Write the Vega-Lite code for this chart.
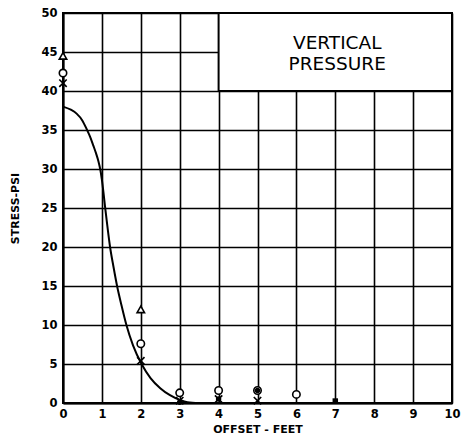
{
  "$schema": "https://vega.github.io/schema/vega-lite/v6.json",
  "width": 389,
  "height": 390,
  "autosize": "none",
  "padding": {"left": 63, "top": 13, "right": 11, "bottom": 34},
  "background": "white",
  "view": {"stroke": "black", "strokeWidth": 2},
  "config": {
    "font": "DejaVu Sans",
    "axis": {
      "grid": true,
      "gridColor": "black",
      "gridWidth": 1.6,
      "gridOpacity": 1,
      "domainColor": "black",
      "domainWidth": 2,
      "ticks": false,
      "labelColor": "#000000",
      "labelFont": "DejaVu Sans",
      "labelFontWeight": "bold",
      "labelFontSize": 11.5,
      "labelOverlap": false,
      "titleColor": "#000000",
      "titleFont": "DejaVu Sans",
      "titleFontWeight": "bold",
      "titleFontSize": 11
    }
  },
  "datasets": {
    "curve": [
      {"x": 0, "y": 38}, {"x": 0.2, "y": 37.6}, {"x": 0.35, "y": 37.1}, {"x": 0.5, "y": 36.2},
      {"x": 0.61, "y": 35.1}, {"x": 0.7, "y": 34.1}, {"x": 0.78, "y": 33}, {"x": 0.85, "y": 32},
      {"x": 0.91, "y": 31}, {"x": 0.96, "y": 29.9}, {"x": 1.0, "y": 28.6}, {"x": 1.04, "y": 27},
      {"x": 1.08, "y": 25.2}, {"x": 1.14, "y": 22.7}, {"x": 1.21, "y": 20}, {"x": 1.3, "y": 17.4},
      {"x": 1.39, "y": 15}, {"x": 1.5, "y": 12.6}, {"x": 1.63, "y": 10}, {"x": 1.8, "y": 7.4},
      {"x": 2.02, "y": 5}, {"x": 2.25, "y": 3.2}, {"x": 2.5, "y": 1.9}, {"x": 2.75, "y": 1.0},
      {"x": 3.0, "y": 0.4}, {"x": 3.2, "y": 0.1}, {"x": 3.5, "y": 0}
    ],
    "points": [
      {"x": 0, "y": 42.3, "kind": "circle"},
      {"x": 2, "y": 7.6, "kind": "circle"},
      {"x": 3, "y": 1.3, "kind": "circle"},
      {"x": 4, "y": 1.6, "kind": "circle"},
      {"x": 5, "y": 1.6, "kind": "circle"},
      {"x": 6, "y": 1.1, "kind": "circle"},
      {"x": 0, "y": 44.5, "kind": "triangle"},
      {"x": 2, "y": 12, "kind": "triangle"},
      {"x": 0, "y": 41, "kind": "cross"},
      {"x": 2, "y": 5.4, "kind": "cross"},
      {"x": 3, "y": 0.3, "kind": "cross"},
      {"x": 4, "y": 0.5, "kind": "cross"},
      {"x": 5, "y": 0.3, "kind": "cross"}
    ],
    "filled": [
      {"x": 7, "y": 0.25, "kind": "square"},
      {"x": 5, "y": 1.6, "kind": "dot"},
      {"x": 4, "y": 0.5, "kind": "dot"},
      {"x": 3, "y": 0.1, "kind": "dot"}
    ],
    "box": [{"x": 4, "x2": 10, "y": 40, "y2": 50}],
    "labels": [
      {"x": 7.05, "y": 46.2, "t": "VERTICAL"},
      {"x": 7.05, "y": 43.5, "t": "PRESSURE"}
    ]
  },
  "encoding": {
    "x": {"field": "x", "type": "quantitative", "scale": {"domain": [0, 10], "nice": false, "zero": false},
      "axis": {"tickCount": 10, "title": "OFFSET   -   FEET", "labelPadding": 5, "titlePadding": 4, "labelFlush": false}},
    "y": {"field": "y", "type": "quantitative", "scale": {"domain": [0, 50], "nice": false},
      "axis": {"tickCount": 10, "title": "STRESS-PSI", "labelPadding": 6, "titlePadding": 20, "labelFlush": false}}
  },
  "layer": [
    {
      "data": {"name": "box"},
      "mark": {"type": "rect", "fill": "white", "stroke": "black", "strokeWidth": 2},
      "encoding": {
        "x2": {"field": "x2"},
        "y2": {"field": "y2"}
      }
    },
    {
      "data": {"name": "labels"},
      "mark": {"type": "text", "fontSize": 18.5, "font": "DejaVu Sans", "color": "black", "align": "center", "baseline": "middle"},
      "encoding": {
        "text": {"field": "t"}
      }
    },
    {
      "data": {"name": "curve"},
      "mark": {"type": "line", "color": "black", "strokeWidth": 2, "interpolate": "monotone"},
      "encoding": {}
    },
    {
      "data": {"name": "points"},
      "mark": {"type": "point", "filled": false, "stroke": "black", "strokeWidth": 1.6, "size": 55, "fill": "white", "fillOpacity": 1},
      "encoding": {
        "shape": {"field": "kind", "type": "nominal",
          "scale": {"domain": ["circle", "triangle", "cross"], "range": ["circle", "triangle-up", "M-1,-1L1,1M-1,1L1,-1"]},
          "legend": null}
      }
    },
    {
      "data": {"name": "filled"},
      "mark": {"type": "point", "filled": true, "color": "black", "size": 30, "opacity": 1},
      "encoding": {
        "shape": {"field": "kind", "type": "nominal",
          "scale": {"domain": ["square", "dot"], "range": ["square", "circle"]},
          "legend": null}
      }
    }
  ],
  "resolve": {"scale": {"shape": "independent"}}
}
